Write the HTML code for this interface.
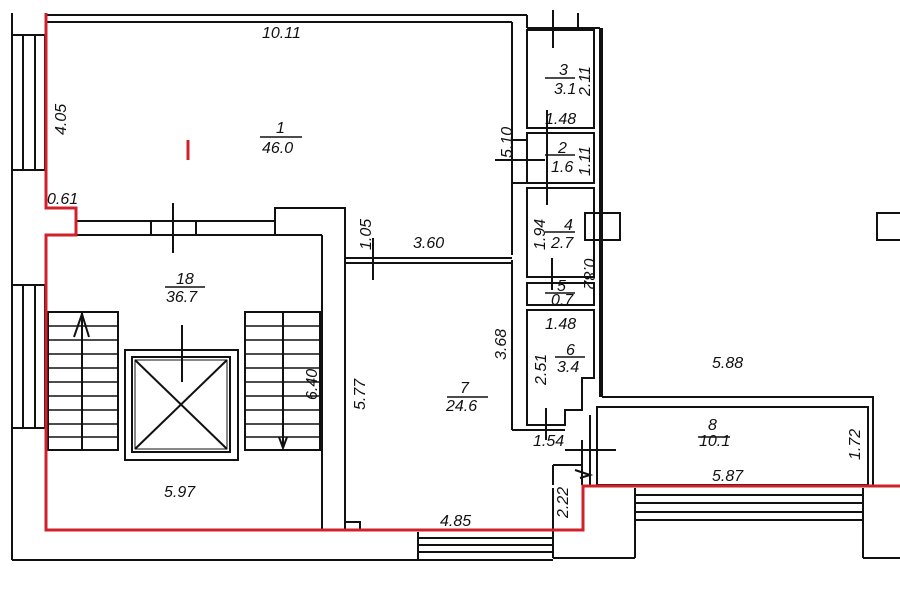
<!DOCTYPE html>
<html><head><style>
html,body{margin:0;padding:0;background:#fff;}
svg{display:block}
text{font-family:"Liberation Sans",sans-serif;font-style:italic;font-size:16px;fill:#111;}
</style></head><body>
<svg width="900" height="604" viewBox="0 0 900 604" xmlns="http://www.w3.org/2000/svg">
<g stroke="#111" stroke-width="2" fill="none">
<line x1="12" y1="13" x2="12" y2="560"/>
<line x1="12" y1="560" x2="418" y2="560"/>
<rect x="12" y="35" width="33" height="135"/>
<line x1="23" y1="35" x2="23" y2="170"/><line x1="35" y1="35" x2="35" y2="170"/>
<rect x="12" y="285" width="33" height="143"/>
<line x1="23" y1="285" x2="23" y2="428"/><line x1="35" y1="285" x2="35" y2="428"/>
<line x1="46" y1="15" x2="527" y2="15"/>
<line x1="46" y1="22" x2="512" y2="22"/>
<line x1="527" y1="15" x2="527" y2="28"/>
<line x1="527" y1="28" x2="600" y2="28"/>
<line x1="553" y1="13" x2="553" y2="28"/>
<line x1="578" y1="13" x2="578" y2="28"/>
<line x1="512" y1="22" x2="512" y2="255"/>
<line x1="512" y1="260" x2="512" y2="430"/>
<line x1="512" y1="430" x2="565" y2="430"/>
<line x1="600" y1="28" x2="600" y2="397"/>
<rect x="527" y="30" width="67" height="98"/>
<rect x="527" y="133" width="67" height="50"/>
<rect x="527" y="188" width="67" height="89"/>
<rect x="527" y="283" width="67" height="22"/>
<path d="M527 310 H594 V378 H582 V410 H565 V425 H527 Z"/>
<line x1="512" y1="140" x2="527" y2="140"/><line x1="512" y1="183" x2="527" y2="183"/>
<line x1="495" y1="160" x2="545" y2="160"/>
<line x1="553" y1="10" x2="553" y2="48"/>
<line x1="547" y1="110" x2="547" y2="205"/>
<line x1="552" y1="258" x2="552" y2="290"/>
<line x1="546" y1="408" x2="546" y2="440"/>
<rect x="585" y="213" width="35" height="27"/>
<rect x="877" y="213" width="30" height="27"/>
<line x1="602" y1="28" x2="602" y2="397"/>
<polyline points="602,397 873,397 873,485"/>
<rect x="597" y="407" width="271" height="78"/>
<path d="M565 450 H616 M553 465 H582 V485 M553 465 V485 M575 470 L590 475 L580 478"/>
<line x1="582" y1="440" x2="582" y2="485"/>
<line x1="590" y1="415" x2="590" y2="485"/>
<line x1="553" y1="488" x2="553" y2="558"/>
<line x1="635" y1="488" x2="635" y2="558"/>
<line x1="553" y1="558" x2="635" y2="558"/>
<line x1="863" y1="488" x2="863" y2="558"/>
<line x1="863" y1="558" x2="900" y2="558"/>
<line x1="635" y1="495" x2="863" y2="495"/><line x1="635" y1="503" x2="863" y2="503"/><line x1="635" y1="512" x2="863" y2="512"/><line x1="635" y1="520" x2="863" y2="520"/>
<line x1="418" y1="532" x2="418" y2="560"/>
<line x1="418" y1="538" x2="553" y2="538"/><line x1="418" y1="545" x2="553" y2="545"/><line x1="418" y1="552" x2="553" y2="552"/>
<line x1="418" y1="560" x2="553" y2="560"/>
<line x1="76" y1="221" x2="275" y2="221"/>
<line x1="76" y1="235" x2="322" y2="235"/>
<line x1="151" y1="221" x2="151" y2="235"/><line x1="196" y1="221" x2="196" y2="235"/>
<line x1="173" y1="203" x2="173" y2="253"/>
<path d="M275 235 V208 H345 V530"/>
<line x1="322" y1="235" x2="322" y2="530"/>
<path d="M345 522 H360 V530"/>
<line x1="345" y1="258" x2="512" y2="258"/>
<line x1="345" y1="263" x2="512" y2="263"/>
<line x1="373" y1="238" x2="373" y2="280"/>
<rect x="48" y="312" width="70" height="138"/>
<line x1="82" y1="312" x2="82" y2="450"/>
<path d="M74 337 L82 314 L89 337"/>
<rect x="125" y="350" width="113" height="110"/>
<rect x="132" y="357" width="98" height="95"/>
<rect x="135" y="360" width="92" height="89" stroke-width="1"/>
<line x1="135" y1="360" x2="227" y2="449"/><line x1="227" y1="360" x2="135" y2="449"/>
<line x1="182" y1="325" x2="182" y2="382"/>
<rect x="245" y="312" width="75" height="138"/>
<line x1="283" y1="312" x2="283" y2="448"/>
<path d="M279 437 L283 448 L287 437"/>
</g>
<g stroke="#111" stroke-width="1.5">
<line x1="48" y1="326" x2="118" y2="326"/><line x1="48" y1="340" x2="118" y2="340"/><line x1="48" y1="354" x2="118" y2="354"/><line x1="48" y1="368" x2="118" y2="368"/><line x1="48" y1="382" x2="118" y2="382"/><line x1="48" y1="396" x2="118" y2="396"/><line x1="48" y1="410" x2="118" y2="410"/><line x1="48" y1="424" x2="118" y2="424"/><line x1="48" y1="437" x2="118" y2="437"/>
<line x1="245" y1="326" x2="320" y2="326"/><line x1="245" y1="340" x2="320" y2="340"/><line x1="245" y1="354" x2="320" y2="354"/><line x1="245" y1="368" x2="320" y2="368"/><line x1="245" y1="382" x2="320" y2="382"/><line x1="245" y1="396" x2="320" y2="396"/><line x1="245" y1="410" x2="320" y2="410"/><line x1="245" y1="424" x2="320" y2="424"/><line x1="245" y1="437" x2="320" y2="437"/>
<line x1="260" y1="137" x2="302" y2="137"/>
<line x1="165" y1="287" x2="205" y2="287"/>
<line x1="447" y1="397" x2="488" y2="397"/>
<line x1="698" y1="437" x2="730" y2="437"/>
<line x1="545" y1="78" x2="575" y2="78"/>
<line x1="545" y1="155" x2="575" y2="155"/>
<line x1="545" y1="232" x2="575" y2="232"/>
<line x1="545" y1="293" x2="575" y2="293"/>
<line x1="555" y1="357" x2="585" y2="357"/>
</g>
<path d="M46 13 V208 H76 V235 H46 V530 H583 V486 H900" stroke="#d0202a" stroke-width="3" fill="none"/>
<line x1="188" y1="140" x2="188" y2="160" stroke="#d0202a" stroke-width="3"/>
<text x="262" y="38">10.11</text>
<text x="276" y="133">1</text>
<text x="262" y="153">46.0</text>
<text x="176" y="284">18</text>
<text x="166" y="302">36.7</text>
<text x="47" y="204">0.61</text>
<text x="413" y="248">3.60</text>
<text x="460" y="393">7</text>
<text x="446" y="411">24.6</text>
<text x="164" y="497">5.97</text>
<text x="440" y="526">4.85</text>
<text x="712" y="368">5.88</text>
<text x="708" y="430">8</text>
<text x="699" y="446">10.1</text>
<text x="712" y="481">5.87</text>
<text x="559" y="75">3</text><text x="554" y="94">3.1</text>
<text x="545" y="124">1.48</text>
<text x="558" y="153">2</text><text x="551" y="172">1.6</text>
<text x="564" y="230">4</text><text x="551" y="248">2.7</text>
<text x="557" y="291">5</text><text x="551" y="305">0.7</text>
<text x="545" y="329">1.48</text>
<text x="566" y="355">6</text><text x="557" y="372">3.4</text>
<text x="533" y="446">1.54</text>
<g>
<text transform="translate(66,135) rotate(-90)">4.05</text>
<text transform="translate(512,158) rotate(-90)">5.10</text>
<text transform="translate(371,250) rotate(-90)">1.05</text>
<text transform="translate(506,360) rotate(-90)">3.68</text>
<text transform="translate(546,385) rotate(-90)">2.51</text>
<text transform="translate(545,250) rotate(-90)">1.94</text>
<text transform="translate(590,96) rotate(-90)">2.11</text>
<text transform="translate(590,176) rotate(-90)">1.11</text>
<text transform="translate(584,258) rotate(90)">0.82</text>
<text transform="translate(317,400) rotate(-90)">6.40</text>
<text transform="translate(365,410) rotate(-90)">5.77</text>
<text transform="translate(568,518) rotate(-90)">2.22</text>
<text transform="translate(860,460) rotate(-90)">1.72</text>
</g>
</svg>
</body></html>
